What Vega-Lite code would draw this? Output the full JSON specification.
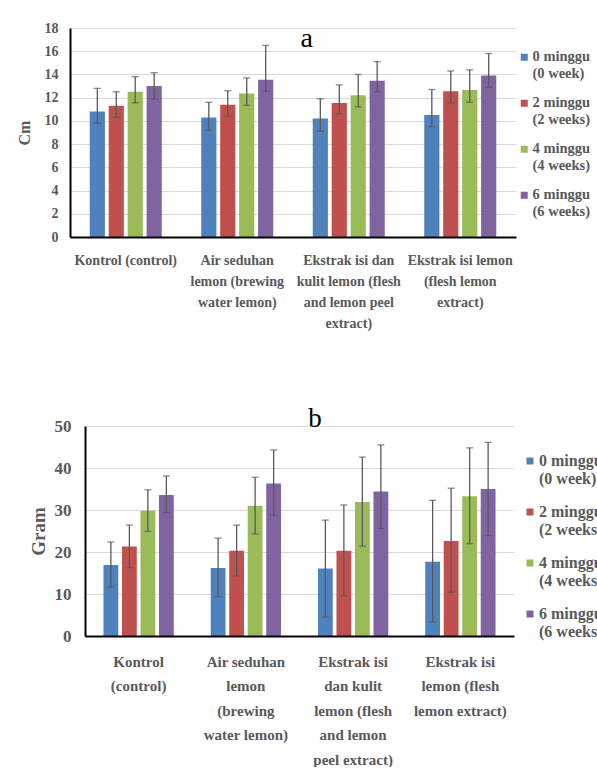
{
  "$schema": "https://vega.github.io/schema/vega-lite/v6.json",
  "padding": {"left": 16, "top": 21, "right": 0, "bottom": 0},
  "config": {"view": {"stroke": null}, "font": "Liberation Serif"},
  "datasets": {
    "a": [
      {"g": "Kontrol (control)", "w": "0 minggu|(0 week)", "v": 10.8, "lo": 9.8, "hi": 12.8},
      {"g": "Kontrol (control)", "w": "2 minggu|(2 weeks)", "v": 11.3, "lo": 10.3, "hi": 12.5},
      {"g": "Kontrol (control)", "w": "4 minggu|(4 weeks)", "v": 12.5, "lo": 11.55, "hi": 13.8},
      {"g": "Kontrol (control)", "w": "6 minggu|(6 weeks)", "v": 13.0, "lo": 11.9, "hi": 14.15},
      {"g": "Air seduhan|lemon (brewing|water lemon)", "w": "0 minggu|(0 week)", "v": 10.3, "lo": 9.2, "hi": 11.6},
      {"g": "Air seduhan|lemon (brewing|water lemon)", "w": "2 minggu|(2 weeks)", "v": 11.4, "lo": 10.4, "hi": 12.6},
      {"g": "Air seduhan|lemon (brewing|water lemon)", "w": "4 minggu|(4 weeks)", "v": 12.35, "lo": 11.35, "hi": 13.7},
      {"g": "Air seduhan|lemon (brewing|water lemon)", "w": "6 minggu|(6 weeks)", "v": 13.55, "lo": 12.55, "hi": 16.5},
      {"g": "Ekstrak isi dan|kulit lemon (flesh|and lemon peel|extract)", "w": "0 minggu|(0 week)", "v": 10.2, "lo": 9.1, "hi": 11.9},
      {"g": "Ekstrak isi dan|kulit lemon (flesh|and lemon peel|extract)", "w": "2 minggu|(2 weeks)", "v": 11.55, "lo": 10.6, "hi": 13.1},
      {"g": "Ekstrak isi dan|kulit lemon (flesh|and lemon peel|extract)", "w": "4 minggu|(4 weeks)", "v": 12.2, "lo": 11.2, "hi": 14.0},
      {"g": "Ekstrak isi dan|kulit lemon (flesh|and lemon peel|extract)", "w": "6 minggu|(6 weeks)", "v": 13.45, "lo": 12.5, "hi": 15.1},
      {"g": "Ekstrak isi lemon|(flesh lemon|extract)", "w": "0 minggu|(0 week)", "v": 10.5, "lo": 9.5, "hi": 12.7},
      {"g": "Ekstrak isi lemon|(flesh lemon|extract)", "w": "2 minggu|(2 weeks)", "v": 12.55, "lo": 11.55, "hi": 14.3},
      {"g": "Ekstrak isi lemon|(flesh lemon|extract)", "w": "4 minggu|(4 weeks)", "v": 12.67, "lo": 11.6, "hi": 14.4},
      {"g": "Ekstrak isi lemon|(flesh lemon|extract)", "w": "6 minggu|(6 weeks)", "v": 13.9, "lo": 12.9, "hi": 15.8}
    ],
    "b": [
      {"g": "Kontrol|(control)", "w": "0 minggu|(0 week)", "v": 16.9, "lo": 11.7, "hi": 22.4},
      {"g": "Kontrol|(control)", "w": "2 minggu|(2 weeks)", "v": 21.3, "lo": 16.3, "hi": 26.4},
      {"g": "Kontrol|(control)", "w": "4 minggu|(4 weeks)", "v": 29.8, "lo": 24.9, "hi": 34.8},
      {"g": "Kontrol|(control)", "w": "6 minggu|(6 weeks)", "v": 33.6, "lo": 29.4, "hi": 38.1},
      {"g": "Air seduhan|lemon|(brewing|water lemon)", "w": "0 minggu|(0 week)", "v": 16.2, "lo": 9.4, "hi": 23.3},
      {"g": "Air seduhan|lemon|(brewing|water lemon)", "w": "2 minggu|(2 weeks)", "v": 20.3, "lo": 14.3, "hi": 26.4},
      {"g": "Air seduhan|lemon|(brewing|water lemon)", "w": "4 minggu|(4 weeks)", "v": 31.0, "lo": 24.3, "hi": 37.8},
      {"g": "Air seduhan|lemon|(brewing|water lemon)", "w": "6 minggu|(6 weeks)", "v": 36.3, "lo": 28.7, "hi": 44.3},
      {"g": "Ekstrak isi|dan kulit|lemon (flesh|and lemon|peel extract)", "w": "0 minggu|(0 week)", "v": 16.1, "lo": 4.5, "hi": 27.6},
      {"g": "Ekstrak isi|dan kulit|lemon (flesh|and lemon|peel extract)", "w": "2 minggu|(2 weeks)", "v": 20.3, "lo": 9.6, "hi": 31.2},
      {"g": "Ekstrak isi|dan kulit|lemon (flesh|and lemon|peel extract)", "w": "4 minggu|(4 weeks)", "v": 31.9, "lo": 21.4, "hi": 42.6},
      {"g": "Ekstrak isi|dan kulit|lemon (flesh|and lemon|peel extract)", "w": "6 minggu|(6 weeks)", "v": 34.4, "lo": 25.6, "hi": 45.5},
      {"g": "Ekstrak isi|lemon (flesh|lemon extract)", "w": "0 minggu|(0 week)", "v": 17.7, "lo": 3.3, "hi": 32.3},
      {"g": "Ekstrak isi|lemon (flesh|lemon extract)", "w": "2 minggu|(2 weeks)", "v": 22.6, "lo": 10.4, "hi": 35.2},
      {"g": "Ekstrak isi|lemon (flesh|lemon extract)", "w": "4 minggu|(4 weeks)", "v": 33.3, "lo": 22.0, "hi": 44.8},
      {"g": "Ekstrak isi|lemon (flesh|lemon extract)", "w": "6 minggu|(6 weeks)", "v": 35.0, "lo": 23.9, "hi": 46.1}
    ]
  },
  "resolve": {"scale": {"x": "independent", "y": "independent", "xOffset": "independent"}, "legend": {"color": "independent"}},
  "spacing": 74,
  "vconcat": [
    {
      "width": 446,
      "height": 209,
      "data": {"name": "a"},
      "layer": [
        {
          "mark": {"type": "bar"},
          "encoding": {
            "x": {"field": "g", "type": "nominal", "title": null,
              "scale": {"domain": ["Kontrol (control)", "Air seduhan|lemon (brewing|water lemon)", "Ekstrak isi dan|kulit lemon (flesh|and lemon peel|extract)", "Ekstrak isi lemon|(flesh lemon|extract)"], "paddingInner": 0.32, "paddingOuter": 0.16},
              "axis": {"labelExpr": "split(datum.label, '|')", "labelAngle": 0, "labelBaseline": "top", "labelFont": "Liberation Serif", "labelFontWeight": "bold", "labelFontSize": 14, "labelLineHeight": 21, "labelColor": "#595959", "labelPadding": 16, "labelLimit": 0, "labelOverlap": false, "ticks": false, "domainColor": "black", "domainWidth": 2, "zindex": 1}},
            "xOffset": {"field": "w", "type": "nominal", "scale": {"paddingInner": 0.2, "paddingOuter": 0.1}},
            "y": {"field": "v", "type": "quantitative", "title": "Cm", "scale": {"domain": [0, 18], "nice": false},
              "axis": {"values": [0, 2, 4, 6, 8, 10, 12, 14, 16, 18], "labelOverlap": false, "labelFont": "Liberation Serif", "labelFontWeight": "bold", "labelFontSize": 14, "labelColor": "#595959", "labelPadding": 12, "ticks": false, "domainColor": "black", "domainWidth": 2, "gridColor": "#D9D9D9", "titleFont": "Liberation Serif", "titleFontSize": 16, "titleFontWeight": "bold", "titleColor": "#595959", "titlePadding": 12, "zindex": 0}},
            "color": {"field": "w", "type": "nominal", "scale": {"range": ["#4F81BD", "#C0504D", "#9BBB59", "#8064A2"]},
              "legend": {"title": null, "orient": "right", "offset": -21, "padding": 22, "labelExpr": "split(datum.label, '|')", "labelFont": "Liberation Serif", "labelFontWeight": "bold", "labelFontSize": 14.5, "labelLineHeight": 22, "labelColor": "#595959", "labelLimit": 0, "labelOffset": 1, "rowPadding": 14, "symbolType": "square", "symbolSize": 49, "symbolStrokeWidth": 0}}
          }
        },
        {
          "mark": {"type": "rule", "color": "#595959", "strokeWidth": 1.3},
          "encoding": {
            "x": {"field": "g", "type": "nominal", "title": null},
            "xOffset": {"field": "w", "type": "nominal"},
            "y": {"field": "lo", "type": "quantitative", "title": "Cm", "axis": {"values": [0, 2, 4, 6, 8, 10, 12, 14, 16, 18], "labelOverlap": false}},
            "y2": {"field": "hi"}
          }
        },
        {
          "mark": {"type": "tick", "orient": "horizontal", "color": "#595959", "size": 7, "thickness": 1.3},
          "encoding": {
            "x": {"field": "g", "type": "nominal", "title": null},
            "xOffset": {"field": "w", "type": "nominal"},
            "y": {"field": "lo", "type": "quantitative", "title": "Cm", "axis": {"values": [0, 2, 4, 6, 8, 10, 12, 14, 16, 18], "labelOverlap": false}}
          }
        },
        {
          "mark": {"type": "tick", "orient": "horizontal", "color": "#595959", "size": 7, "thickness": 1.3},
          "encoding": {
            "x": {"field": "g", "type": "nominal", "title": null},
            "xOffset": {"field": "w", "type": "nominal"},
            "y": {"field": "hi", "type": "quantitative", "title": "Cm", "axis": {"values": [0, 2, 4, 6, 8, 10, 12, 14, 16, 18], "labelOverlap": false}}
          }
        },
        {
          "data": {"values": [{"g": "Ekstrak isi dan|kulit lemon (flesh|and lemon peel|extract)", "t": "a", "y": 16.4}]},
          "mark": {"type": "text", "font": "Liberation Serif", "fontSize": 28, "color": "black", "baseline": "alphabetic", "align": "center", "dx": -4},
          "encoding": {
            "x": {"field": "g", "type": "nominal", "title": null, "bandPosition": 0},
            "y": {"field": "y", "type": "quantitative", "title": "Cm", "axis": {"values": [0, 2, 4, 6, 8, 10, 12, 14, 16, 18], "labelOverlap": false}},
            "text": {"field": "t"}
          }
        }
      ]
    },
    {
      "spacing": -45,
      "hconcat": [
        {
          "width": 1,
          "height": 1,
          "data": {"values": [{"s": 0}]},
          "mark": {"type": "point", "opacity": 0},
          "encoding": {}
        },
        {
          "width": 429,
          "height": 210,
          "data": {"name": "b"},
          "layer": [
            {
              "mark": {"type": "bar"},
              "encoding": {
                "x": {"field": "g", "type": "nominal", "title": null,
                  "scale": {"domain": ["Kontrol|(control)", "Air seduhan|lemon|(brewing|water lemon)", "Ekstrak isi|dan kulit|lemon (flesh|and lemon|peel extract)", "Ekstrak isi|lemon (flesh|lemon extract)"], "paddingInner": 0.31, "paddingOuter": 0.155},
                  "axis": {"labelExpr": "split(datum.label, '|')", "labelAngle": 0, "labelBaseline": "top", "labelFont": "Liberation Serif", "labelFontWeight": "bold", "labelFontSize": 15, "labelLineHeight": 24.5, "labelColor": "#595959", "labelPadding": 18, "labelLimit": 0, "labelOverlap": false, "ticks": false, "domainColor": "black", "domainWidth": 2, "zindex": 1}},
                "xOffset": {"field": "w", "type": "nominal", "scale": {"paddingInner": 0.2, "paddingOuter": 0.1}},
                "y": {"field": "v", "type": "quantitative", "title": "Gram", "scale": {"domain": [0, 50], "nice": false},
                  "axis": {"values": [0, 10, 20, 30, 40, 50], "labelOverlap": false, "labelFont": "Liberation Serif", "labelFontWeight": "bold", "labelFontSize": 17, "labelColor": "#595959", "labelPadding": 14, "ticks": false, "domainColor": "black", "domainWidth": 2, "gridColor": "#D9D9D9", "titleFont": "Liberation Serif", "titleFontSize": 19, "titleFontWeight": "bold", "titleColor": "#595959", "titlePadding": 6, "zindex": 0}},
                "color": {"field": "w", "type": "nominal", "scale": {"range": ["#4F81BD", "#C0504D", "#9BBB59", "#8064A2"]},
                  "legend": {"title": null, "orient": "right", "offset": -19, "padding": 27, "labelExpr": "split(datum.label, '|')", "labelFont": "Liberation Serif", "labelFontWeight": "bold", "labelFontSize": 16, "labelLineHeight": 23, "labelColor": "#595959", "labelLimit": 0, "labelOffset": 1, "rowPadding": 17, "symbolType": "square", "symbolSize": 49, "symbolStrokeWidth": 0}}
              }
            },
            {
              "mark": {"type": "rule", "color": "#595959", "strokeWidth": 1.3},
              "encoding": {
                "x": {"field": "g", "type": "nominal", "title": null},
                "xOffset": {"field": "w", "type": "nominal"},
                "y": {"field": "lo", "type": "quantitative", "title": "Gram", "axis": {"values": [0, 10, 20, 30, 40, 50], "labelOverlap": false}},
                "y2": {"field": "hi"}
              }
            },
            {
              "mark": {"type": "tick", "orient": "horizontal", "color": "#595959", "size": 7, "thickness": 1.3},
              "encoding": {
                "x": {"field": "g", "type": "nominal", "title": null},
                "xOffset": {"field": "w", "type": "nominal"},
                "y": {"field": "lo", "type": "quantitative", "title": "Gram", "axis": {"values": [0, 10, 20, 30, 40, 50], "labelOverlap": false}}
              }
            },
            {
              "mark": {"type": "tick", "orient": "horizontal", "color": "#595959", "size": 7, "thickness": 1.3},
              "encoding": {
                "x": {"field": "g", "type": "nominal", "title": null},
                "xOffset": {"field": "w", "type": "nominal"},
                "y": {"field": "hi", "type": "quantitative", "title": "Gram", "axis": {"values": [0, 10, 20, 30, 40, 50], "labelOverlap": false}}
              }
            },
            {
              "data": {"values": [{"g": "Ekstrak isi|dan kulit|lemon (flesh|and lemon|peel extract)", "t": "b", "y": 49.8}]},
              "mark": {"type": "text", "font": "Liberation Serif", "fontSize": 27, "color": "black", "baseline": "alphabetic", "align": "center", "dx": -1},
              "encoding": {
                "x": {"field": "g", "type": "nominal", "title": null, "bandPosition": 0},
                "y": {"field": "y", "type": "quantitative", "title": "Gram", "axis": {"values": [0, 10, 20, 30, 40, 50], "labelOverlap": false}},
                "text": {"field": "t"}
              }
            }
          ]
        }
      ]
    }
  ]
}
